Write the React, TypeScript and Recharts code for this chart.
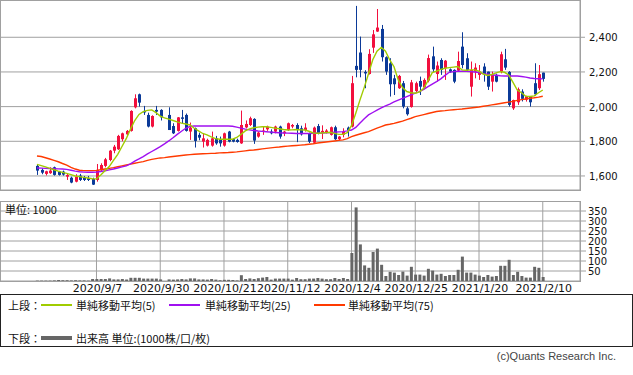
import { ComposedChart, Bar, Line, XAxis, YAxis, CartesianGrid } from 'recharts'

// trading-day index of each date gridline and its label
const tickIdx = [14, 29, 44, 59, 74, 89, 104, 119]
const tickLabels = ['2020/9/7', '2020/9/30', '2020/10/21', '2020/11/12', '2020/12/4', '2020/12/25', '2021/1/20', '2021/2/10']
const priceTicks = [1600, 1800, 2000, 2200, 2400]
const volTicks = [50, 100, 150, 200, 250, 300, 350]

// OHLC, one entry per trading day (index 30 = 2020/10/1, no trading)
const opens = [
  1658, 1635, 1612, 1616, 1650, 1625, 1625, 1596, 1590, 1567,
  1602, 1590, 1587, 1583, 1577, 1635, 1658, 1692, 1746, 1754,
  1812, 1840, 1860, 1996, 2071, 1975, 1952, 1885, 1981, 1981,
  null, 1952, 1888, 1860, 1938, 1952, 1856, 1875, 1837, 1798,
  1775, 1775, 1817, 1812, 1775, 1856, 1812, 1808, 1788, 1880,
  1894, 1929, 1827, 1856, 1869, 1856, 1856, 1885, 1846, 1865,
  1885, 1894, 1875, 1865, 1846, 1792, 1888, 1850, 1856, 1837,
  1881, 1812, 1837, 1879, 1885, 2235, 2312, 2200, 2188, 2340,
  2433, 2448, 2285, 2250, 2163, 2106, 2135, 1990, 1998, 2090,
  2148, 2110, 2150, 2290, 2188, 2269, 2222, 2215, 2212, 2208,
  2346, 2279, 2115, 2202, 2183, 2231, 2202, 2144, 2183, 2202,
  2273, 2200, 1990, 2025, 2087, 2040, 2058, 2135, 2106, 2196,
]
const highs = [
  1663, 1644, 1630, 1650, 1654, 1629, 1631, 1616, 1596, 1610,
  1612, 1600, 1600, 1590, 1669, 1673, 1704, 1750, 1779, 1837,
  1850, 1865, 1979, 2071, 2075, 2004, 1965, 1950, 2004, 1985,
  null, 1996, 1904, 1940, 1981, 1960, 1908, 1879, 1850, 1846,
  1815, 1856, 1831, 1827, 1850, 1860, 1817, 1815, 1977, 1920,
  1942, 1933, 1856, 1888, 1890, 1869, 1890, 1890, 1860, 1908,
  1900, 1904, 1890, 1904, 1850, 1885, 1900, 1892, 1870, 1885,
  1890, 1830, 1875, 1885, 2177, 2581, 2404, 2210, 2331, 2442,
  2563, 2471, 2290, 2279, 2183, 2183, 2148, 2000, 2154, 2144,
  2173, 2163, 2300, 2346, 2260, 2279, 2269, 2220, 2215, 2317,
  2429, 2308, 2260, 2250, 2240, 2250, 2202, 2202, 2190, 2317,
  2333, 2205, 2040, 2110, 2100, 2063, 2058, 2250, 2240, 2196,
]
const lows = [
  1606, 1610, 1603, 1612, 1602, 1602, 1602, 1577, 1558, 1563,
  1571, 1571, 1571, 1548, 1567, 1625, 1650, 1685, 1731, 1750,
  1800, 1835, 1856, 1990, 2000, 1952, 1880, 1880, 1952, 1920,
  null, 1865, 1842, 1856, 1904, 1856, 1808, 1764, 1806, 1764,
  1770, 1769, 1780, 1769, 1769, 1794, 1794, 1792, 1785, 1875,
  1888, 1785, 1821, 1837, 1860, 1840, 1846, 1815, 1830, 1860,
  1875, 1795, 1833, 1856, 1790, 1790, 1840, 1813, 1845, 1833,
  1808, 1806, 1823, 1827, 1880, 2169, 2169, 2106, 2185, 2310,
  2431, 2260, 2183, 2058, 2067, 2102, 1990, 1948, 1994, 2080,
  2067, 2100, 2140, 2200, 2144, 2183, 2154, 2195, 2135, 2202,
  2221, 2202, 2058, 2163, 2154, 2144, 2096, 2087, 2140, 2192,
  2212, 2000, 1981, 2010, 2030, 2029, 2000, 2063, 2096, 2144,
]
const closes = [
  1631, 1619, 1627, 1631, 1606, 1606, 1608, 1606, 1562, 1596,
  1577, 1577, 1577, 1550, 1635, 1663, 1696, 1746, 1769, 1831,
  1846, 1860, 1975, 2048, 2023, 1969, 1885, 1946, 1971, 1938,
  null, 1865, 1846, 1938, 1931, 1860, 1879, 1802, 1821, 1817,
  1808, 1817, 1788, 1788, 1846, 1798, 1798, 1796, 1894, 1900,
  1933, 1804, 1850, 1862, 1885, 1846, 1885, 1827, 1856, 1904,
  1894, 1865, 1840, 1879, 1798, 1879, 1846, 1860, 1862, 1881,
  1812, 1827, 1856, 1862, 2135, 2212, 2212, 2192, 2304, 2417,
  2456, 2285, 2202, 2129, 2129, 2177, 2000, 1956, 2140, 2135,
  2115, 2154, 2280, 2215, 2237, 2212, 2265, 2202, 2144, 2263,
  2240, 2212, 2212, 2225, 2202, 2188, 2115, 2183, 2144, 2302,
  2225, 2010, 2038, 2100, 2045, 2060, 2025, 2071, 2187, 2160,
]

// volume, in thousands
const volumes = [
  2, 2, 2, 2, 3, 5, 4, 4, 3, 4, 3, 3, 2,
  10, 10, 10, 10, 13, 8, 8, 10, 8, 16, 16, 16, 12, 12, 12, 12, 8,
  0,
  8, 7, 8, 10, 8, 13, 13, 8, 8, 7, 10, 7, 4,
  6, 6, 5, 3, 29, 10, 13, 10, 14, 17, 20, 7, 12, 12, 12, 12,
  7, 15, 9, 9, 12, 12, 15, 12, 9, 9, 15, 10, 15, 10,
  140, 368, 183, 78, 66, 145, 162, 81, 25, 46, 42, 30, 47, 27, 71, 32,
  32, 27, 61, 52, 32, 36, 25, 30, 30, 56, 122, 42, 42, 32, 27,
  20, 30, 22, 25, 76, 76, 106, 30, 46, 25, 17, 17, 71, 66, 20,
]

// moving averages
const ma5 = [
  1667, 1660, 1652, 1644, 1636, 1628, 1621, 1615, 1608, 1600,
  1596, 1592, 1588, 1584, 1583, 1605, 1630, 1654, 1690, 1725,
  1770, 1815, 1870, 1920, 1955, 1971, 1978, 1981, 1965, 1945,
  1935, 1928, 1920, 1912, 1905, 1900, 1894, 1875, 1860, 1845,
  1837, 1825, 1815, 1812, 1812, 1812, 1812, 1822, 1840, 1860,
  1872, 1878, 1882, 1884, 1884, 1880, 1876, 1872, 1868, 1865,
  1866, 1868, 1866, 1865, 1858, 1848, 1846, 1848, 1850, 1852,
  1846, 1840, 1840, 1850, 1890, 1962, 2039, 2111, 2190, 2270,
  2320, 2342, 2320, 2269, 2230, 2154, 2110, 2087, 2080, 2077,
  2085, 2106, 2150, 2196, 2205, 2215, 2221, 2225, 2228, 2231,
  2212, 2210, 2212, 2212, 2205, 2188, 2180, 2185, 2195, 2202,
  2198, 2183, 2140, 2096, 2080, 2060, 2058, 2062, 2080, 2096,
]
const ma25 = [
  1646, 1645, 1644, 1643, 1642, 1641, 1640, 1638, 1633, 1628,
  1624, 1622, 1621, 1621, 1622, 1626, 1630, 1635, 1640, 1646,
  1652, 1658, 1670, 1685, 1698, 1712, 1727, 1741, 1755, 1769,
  1785, 1802, 1820, 1840, 1858, 1875, 1886, 1888, 1888, 1888,
  1888, 1888, 1888, 1888, 1888, 1888, 1887, 1882, 1876, 1870,
  1866, 1862, 1859, 1857, 1855, 1853, 1851, 1849, 1848, 1847,
  1846, 1845, 1845, 1845, 1845, 1846, 1846, 1847, 1849, 1850,
  1852, 1854, 1856, 1860, 1865, 1880, 1905, 1930, 1952, 1966,
  1980, 1993, 2004, 2015, 2027, 2038, 2048, 2058, 2068, 2078,
  2087, 2100, 2115, 2130, 2144, 2160, 2180, 2198, 2202, 2204,
  2205, 2204, 2202, 2200, 2197, 2190, 2187, 2184, 2181, 2178,
  2177, 2177, 2177, 2177, 2174, 2170, 2165, 2162, 2161, 2160,
]
const ma75 = [
  1715, 1712, 1705, 1698, 1690, 1682, 1672, 1663, 1650, 1640,
  1633, 1631, 1631, 1631, 1632, 1636, 1640, 1644, 1648, 1653,
  1658, 1663, 1668, 1673, 1678, 1683, 1690, 1696, 1700, 1704,
  1706, 1709, 1712, 1715, 1718, 1721, 1723, 1725, 1727, 1728,
  1729, 1730, 1731, 1733, 1734, 1735, 1737, 1739, 1742, 1745,
  1748, 1750, 1753, 1756, 1759, 1762, 1765, 1767, 1770, 1772,
  1774, 1776, 1778, 1780, 1783, 1786, 1790, 1793, 1796, 1799,
  1802, 1805, 1808, 1815, 1827, 1835, 1842, 1849, 1856, 1866,
  1876, 1885, 1894, 1898, 1903, 1910, 1916, 1925, 1933, 1942,
  1948, 1954, 1960, 1966, 1972, 1975, 1977, 1980, 1982, 1984,
  1986, 1989, 1992, 1995, 1998, 2002, 2006, 2010, 2014, 2018,
  2022, 2026, 2030, 2036, 2040, 2044, 2048, 2051, 2055, 2060,
]

const RED = '#f2103e'
const BLUE = '#0b3a98'
const GRID = '#a0a0a0'
const X_DOMAIN: [number, number] = [-8.7, 127.76]
const AXIS_FONT = '"DejaVu Sans", sans-serif'
const NUM_FONT = '"Liberation Sans", Arial, sans-serif'
const JP_FONT = '"Noto Sans CJK JP", sans-serif'

const rows = opens.map((o, i) => ({
  i,
  o,
  h: highs[i],
  l: lows[i],
  c: closes[i],
  hl: o == null ? null : [lows[i], highs[i]],
  vol: volumes[i],
  ma5: ma5[i],
  ma25: ma25[i],
  ma75: ma75[i],
}))

function Candle(props: any) {
  const { x, y, width, height, payload } = props
  if (!payload || payload.o == null || y == null) return null
  const { o, h, l, c } = payload
  const color = c >= o ? RED : BLUE
  const top = Math.min(y, y + height)
  const hgt = Math.abs(height)
  const span = h - l || 1
  const py = (p: number) => top + ((h - p) / span) * hgt
  const cx = Math.round(x + width / 2)
  const bTop = py(Math.max(o, c))
  const bBot = py(Math.min(o, c))
  return (
    <g>
      <line x1={cx + 0.5} x2={cx + 0.5} y1={top} y2={top + hgt} stroke={color} strokeWidth={1} />
      <rect x={cx - 1} y={bTop} width={3} height={Math.max(1.5, bBot - bTop)} fill={color} />
    </g>
  )
}

function PriceTick({ x, y, payload }: any) {
  return (
    <text x={x + 4} y={y + 4} textAnchor="start" fontSize={10} fontFamily={AXIS_FONT} fill="#111">
      {payload.value.toLocaleString('en-US')}
    </text>
  )
}

function VolTick({ x, y, payload }: any) {
  return (
    <text x={x + 2} y={y + 4} textAnchor="start" fontSize={10} fontFamily={AXIS_FONT} fill="#111">
      {payload.value}
    </text>
  )
}

function DateTick({ x, y, payload }: any) {
  const k = tickIdx.indexOf(payload.value)
  return (
    <text x={x + 1} y={y + 11} textAnchor="middle" fontSize={11} fontFamily={AXIS_FONT} fill="#111">
      {k >= 0 ? tickLabels[k] : ''}
    </text>
  )
}

function LegendLine({ left, top, color, thick }: { left: number; top: number; color: string; thick?: boolean }) {
  const h = thick ? 4 : 1.5
  return <div style={{ position: 'absolute', left, top: top - h / 2, width: 31, height: h, background: color }} />
}

function LegendText({ left, top, children }: { left: number; top: number; children: any }) {
  return (
    <div style={{ position: 'absolute', left, top: top - 8, lineHeight: '16px', fontSize: 11, fontFamily: JP_FONT, color: '#111', whiteSpace: 'nowrap' }}>
      {children}
    </div>
  )
}

export default function App() {
  return (
    <div style={{ position: 'fixed', left: 0, top: 0, width: 633, height: 375, background: '#fff', overflow: 'hidden' }}>
      <div style={{ position: 'absolute', left: 0, top: 0 }}>
        <ComposedChart width={633} height={190} data={rows} margin={{ top: 0, right: 0, bottom: 0, left: 0 }}>
          <CartesianGrid stroke={GRID} />
          <XAxis dataKey="i" type="number" domain={X_DOMAIN} ticks={tickIdx} interval={0} allowDataOverflow height={0} tick={false} axisLine={false} tickLine={false} />
          <YAxis orientation="right" width={53} domain={[1519, 2615]} ticks={priceTicks} interval={0} allowDataOverflow axisLine={false} tickLine={{ stroke: GRID }} tickSize={5} tickMargin={0} tick={<PriceTick />} />
          <Bar dataKey="hl" barSize={3} shape={(p: any) => <Candle {...p} />} isAnimationActive={false} />
          <Line dataKey="ma75" type="linear" stroke="#ff3a00" strokeWidth={1.4} dot={false} activeDot={false} isAnimationActive={false} />
          <Line dataKey="ma25" type="linear" stroke="#a010f0" strokeWidth={1.4} dot={false} activeDot={false} isAnimationActive={false} />
          <Line dataKey="ma5" type="linear" stroke="#a0cc00" strokeWidth={1.4} dot={false} activeDot={false} isAnimationActive={false} />
        </ComposedChart>
        <div style={{ position: 'absolute', left: 0, top: 0, width: 581, height: 191, border: `1px solid ${GRID}`, boxSizing: 'border-box', pointerEvents: 'none' }} />
      </div>

      <div style={{ position: 'absolute', left: 0, top: 201 }}>
        <ComposedChart width={633} height={94} data={rows} margin={{ top: 0, right: 0, bottom: 0, left: 0 }}>
          <CartesianGrid stroke={GRID} />
          <XAxis dataKey="i" type="number" domain={X_DOMAIN} ticks={tickIdx} interval={0} allowDataOverflow height={14} axisLine={false} tickLine={false} tickSize={0} tickMargin={0} tick={<DateTick />} />
          <YAxis orientation="right" width={53} domain={[0, 400]} ticks={volTicks} interval={0} allowDataOverflow axisLine={false} tickLine={{ stroke: GRID }} tickSize={6} tickMargin={0} tick={<VolTick />} />
          <Bar dataKey="vol" barSize={3} fill="#666666" isAnimationActive={false} />
        </ComposedChart>
        <div style={{ position: 'absolute', left: 0, top: 0, width: 581, height: 81, border: `1px solid ${GRID}`, boxSizing: 'border-box', pointerEvents: 'none' }} />
        <div style={{ position: 'absolute', left: 5, top: 1, fontSize: 11, lineHeight: '14px', fontFamily: JP_FONT, color: '#111' }}>単位: 1000</div>
      </div>

      <div style={{ position: 'absolute', left: 0, top: 294, width: 633, height: 53, border: '1px solid #222', boxSizing: 'border-box' }}>
        <LegendText left={7} top={10}>上段：</LegendText>
        <LegendLine left={40} top={10} color="#a0cc00" />
        <LegendText left={75} top={10}>単純移動平均(5)</LegendText>
        <LegendLine left={168} top={10} color="#a010f0" />
        <LegendText left={204} top={10}>単純移動平均(25)</LegendText>
        <LegendLine left={313} top={10} color="#ff3a00" />
        <LegendText left={347} top={10}>単純移動平均(75)</LegendText>
        <LegendText left={7} top={43}>下段：</LegendText>
        <LegendLine left={40} top={43} color="#666666" thick />
        <LegendText left={75} top={43}>出来高 単位:(1000株/口/枚)</LegendText>
      </div>

      <div style={{ position: 'absolute', left: 0, top: 350, width: 616, textAlign: 'right', fontSize: 11, fontFamily: NUM_FONT, color: '#444' }}>
        (c)Quants Research Inc.
      </div>
    </div>
  )
}
